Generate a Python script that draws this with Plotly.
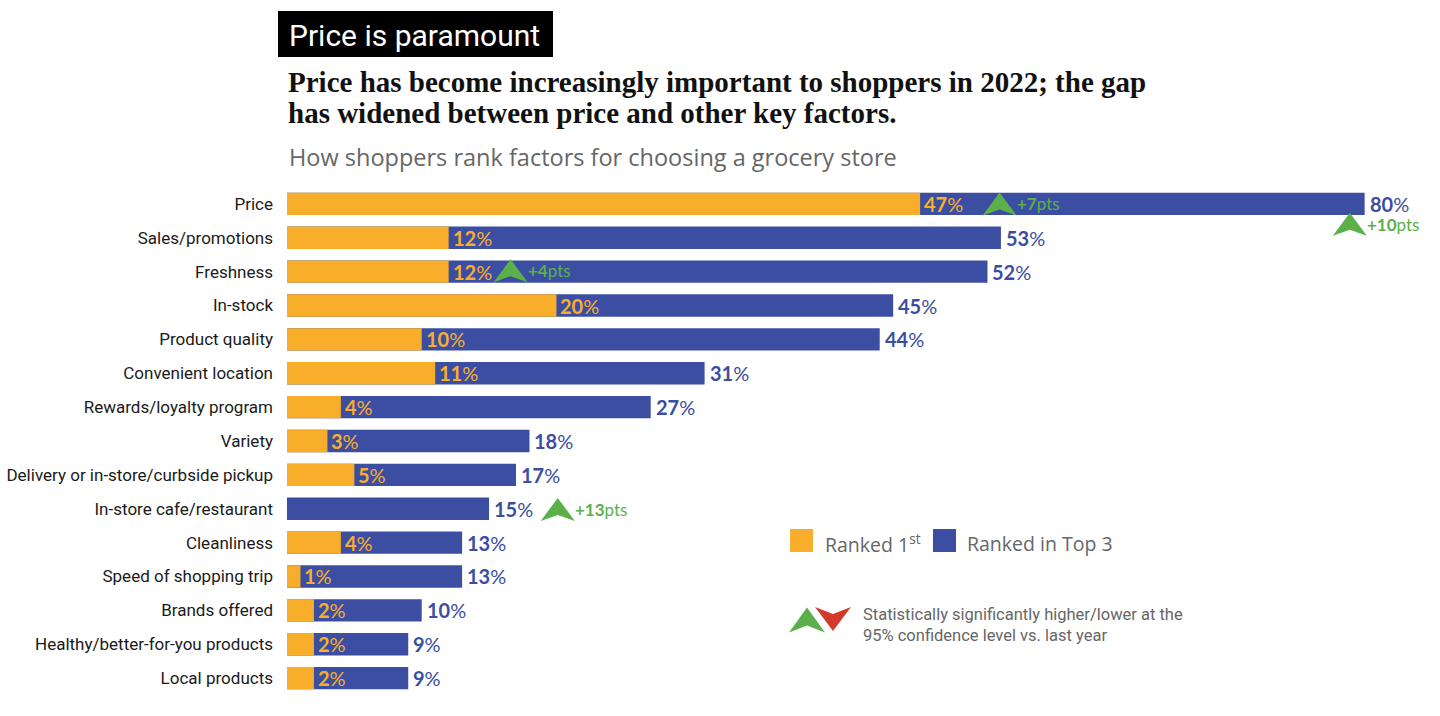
import plotly.graph_objects as go

# ---------------- data ----------------
categories = ["Price", "Sales/promotions", "Freshness", "In-stock", "Product quality",
              "Convenient location", "Rewards/loyalty program", "Variety",
              "Delivery or in-store/curbside pickup", "In-store cafe/restaurant",
              "Cleanliness", "Speed of shopping trip", "Brands offered",
              "Healthy/better-for-you products", "Local products"]
ranked_first = [47, 12, 12, 20, 10, 11, 4, 3, 5, None, 4, 1, 2, 2, 2]
ranked_top3 = [80, 53, 52, 45, 44, 31, 27, 18, 17, 15, 13, 13, 10, 9, 9]

# significance changes vs last year (points)
sig_category = ["Price", "Price", "Freshness", "In-store cafe/restaurant"]
sig_points = [7, 10, 4, 13]

# ---------------- style / layout ----------------
W, H = 1440, 716
L, R, T, B = 287, 8, 187, 21
XMAX = 85
ORANGE = "#F9AE2B"
BLUE = "#3B4EA2"
GREEN = "#5BB04A"
RED = "#D23B2B"
GRAY = "#666666"
NUM_FONT = "Lato, Inter, sans-serif"
COND_FONT = "Roboto, sans-serif"

PW = W - L - R
PH = H - T - B


def px_x(px):
    return (px - L) / PW


def px_y(py):
    return (H - B - py) / PH


idx = list(range(len(categories)))

fig = go.Figure()
fig.add_trace(go.Bar(x=ranked_top3, y=idx, orientation="h", marker_color=BLUE,
                     marker_line_width=0, width=0.66, name="Ranked in Top 3",
                     hoverinfo="x+y"))
fig.add_trace(go.Bar(x=ranked_first, y=idx, orientation="h", marker_color=ORANGE,
                     marker_line_width=0, width=0.66, name="Ranked 1st",
                     hoverinfo="x+y"))

annotations = []
shapes = []

# value labels
for i, (r1, t3) in enumerate(zip(ranked_first, ranked_top3)):
    annotations.append(dict(x=t3, y=i, xref="x", yref="y", xanchor="left", yanchor="middle",
                            xshift=3, showarrow=False, text=f"<b>{t3}</b>%",
                            font=dict(family=NUM_FONT, size=20, color=BLUE)))
    if r1 is not None:
        annotations.append(dict(x=r1, y=i, xref="x", yref="y", xanchor="left", yanchor="middle",
                                xshift=2, showarrow=False, text=f"<b>{r1}</b>%",
                                font=dict(family=NUM_FONT, size=20, color=ORANGE)))


def arrow_path(w, h, notch, up=True):
    s = 1 if up else -1
    return (f"M0,{s*h/2} L{w/2},{-s*h/2} L0,{-s*h/2 + s*notch} "
            f"L{-w/2},{-s*h/2} Z")


# significance markers (position in % along the axis, vertical offset in rows)
sig_xpos = [52.9, 78.9, 16.6, 20.1]
sig_yoff = [0.0, 0.6, -0.03, 0.02]
for cat, pts, xp, yo in zip(sig_category, sig_points, sig_xpos, sig_yoff):
    yi = categories.index(cat) + yo
    shapes.append(dict(type="path", xref="x", yref="y", xsizemode="pixel", ysizemode="pixel",
                       xanchor=xp, yanchor=yi, path=arrow_path(34, 23, 6),
                       fillcolor=GREEN, line=dict(width=0)))
    annotations.append(dict(x=xp, y=yi, xref="x", yref="y", xanchor="left", yanchor="middle",
                            xshift=15, showarrow=False, text=f"<b>+{pts}</b>pts",
                            font=dict(family=NUM_FONT, size=17, color=GREEN)))

# title block
shapes.append(dict(type="rect", xref="paper", yref="paper",
                   x0=px_x(278), x1=px_x(553), y0=px_y(57), y1=px_y(11),
                   fillcolor="black", line=dict(width=0)))
annotations.append(dict(x=px_x(287), y=px_y(35), xref="paper", yref="paper",
                        xanchor="left", yanchor="middle", showarrow=False,
                        text="Price is paramount",
                        font=dict(family=COND_FONT, size=30, color="white")))
annotations.append(dict(x=px_x(286), y=px_y(82), xref="paper", yref="paper",
                        xanchor="left", yanchor="middle", showarrow=False,
                        text="<b>Price has become increasingly important to shoppers in 2022; the gap</b>",
                        font=dict(family="Liberation Serif, serif", size=29, color="#111111")))
annotations.append(dict(x=px_x(286), y=px_y(113), xref="paper", yref="paper",
                        xanchor="left", yanchor="middle", showarrow=False,
                        text="<b>has widened between price and other key factors.</b>",
                        font=dict(family="Liberation Serif, serif", size=29, color="#111111")))
annotations.append(dict(x=px_x(287), y=px_y(157), xref="paper", yref="paper",
                        xanchor="left", yanchor="middle", showarrow=False,
                        text="How shoppers rank factors for choosing a grocery store",
                        font=dict(family="Open Sans, sans-serif", size=23.5, color=GRAY)))

# legend
for x0, col in [(790, ORANGE), (933, BLUE)]:
    shapes.append(dict(type="rect", xref="paper", yref="paper",
                       x0=px_x(x0), x1=px_x(x0 + 23), y0=px_y(552), y1=px_y(529),
                       fillcolor=col, line=dict(width=0)))
annotations.append(dict(x=px_x(823), y=px_y(543), xref="paper", yref="paper",
                        xanchor="left", yanchor="middle", showarrow=False,
                        text="Ranked 1<sup>st</sup>",
                        font=dict(family="Open Sans, sans-serif", size=19.5, color=GRAY)))
annotations.append(dict(x=px_x(965), y=px_y(543), xref="paper", yref="paper",
                        xanchor="left", yanchor="middle", showarrow=False,
                        text="Ranked in Top 3",
                        font=dict(family="Open Sans, sans-serif", size=19.5, color=GRAY)))
shapes.append(dict(type="path", xref="paper", yref="paper", xsizemode="pixel", ysizemode="pixel",
                   xanchor=px_x(807), yanchor=px_y(620), path=arrow_path(36, 25, 7, True),
                   fillcolor=GREEN, line=dict(width=0)))
shapes.append(dict(type="path", xref="paper", yref="paper", xsizemode="pixel", ysizemode="pixel",
                   xanchor=px_x(833), yanchor=px_y(619), path=arrow_path(36, 24, 7, False),
                   fillcolor=RED, line=dict(width=0)))
annotations.append(dict(x=px_x(861), y=px_y(625), xref="paper", yref="paper",
                        xanchor="left", yanchor="middle", showarrow=False, align="left",
                        text="Statistically significantly higher/lower at the<br>95% confidence level vs. last year",
                        font=dict(family=COND_FONT, size=16.5, color=GRAY)))

fig.update_layout(
    width=W, height=H,
    margin=dict(l=L, r=R, t=T, b=B),
    paper_bgcolor="white", plot_bgcolor="white",
    barmode="overlay", showlegend=False,
    xaxis=dict(range=[0, XMAX], visible=False, fixedrange=True, automargin=False),
    yaxis=dict(range=[len(categories) - 0.5, -0.5], tickvals=idx, ticktext=categories,
               showgrid=False, zeroline=False, showline=False, ticks="",
               ticklabelstandoff=13, automargin=False,
               tickfont=dict(family=COND_FONT, size=17, color="#1a1a1a")),
    annotations=annotations,
    shapes=shapes,
)

fig.write_html("out.html")
